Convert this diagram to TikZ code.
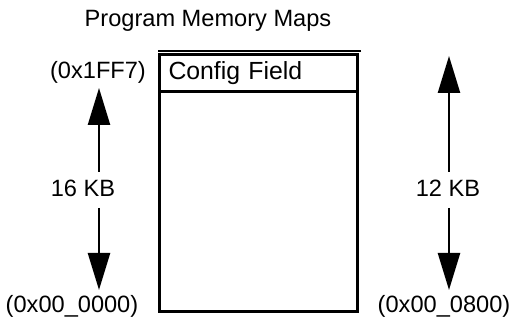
\documentclass[tikz,border=0pt]{standalone}
\usepackage{fontspec}
\setmainfont{Liberation Sans}
\usepackage{tikz}
\usetikzlibrary{arrows.meta,positioning,calc}

\begin{document}
\begin{tikzpicture}[x=0.5pt,y=-0.5pt,
            rotulo/.style={font=\fontsize{11.8}{14}\selectfont,inner sep=0pt},
            mapa/.style={draw,line width=1.5pt,minimum width=99pt,minimum height=128.25pt,
              inner sep=0pt},
            campo/.style={draw,line width=1.5pt,minimum width=99pt,minimum height=15pt,
              text width=90pt,inner xsep=4.5pt,align=left,
              font=\fontsize{12.4}{14}\selectfont},
            seta/.style={-{Triangle[length=18.5pt,width=11pt]},line width=1.2pt}
            ]
            \useasboundingbox (0,0) rectangle (514,324);
            \node[rotulo]                          (titulo) at (208,21) {Program Memory Maps};
            \node[mapa]                            (mem) at (258.5,183.25) {};
            \node[campo,anchor=north west]         (cfg) at (mem.north west) {Config Field};
            \coordinate (fimtopo) at (361,51.5);
            \draw[line width=1pt] (fimtopo) -- (fimtopo -| mem.west);

            % esquerda: 16 KB
            \node[rotulo]                          (end16) at (98,72) {(0x1FF7)};
            \node[rotulo]                          (kb16) at (83,188) {16 KB};
            \node[rotulo]                          (ini16) at (72,306) {(0x00\_0000)};
            \coordinate (p16a) at (99,172);
            \coordinate (p16b) at (99,88);
            \coordinate (p16c) at (99,208);
            \coordinate (p16d) at (99,290);
            \draw[seta] (p16a) -- (p16b);
            \draw[seta] (p16c) -- (p16d);

            % direita: 12 KB
            \node[rotulo]                          (kb12) at (448,188) {12 KB};
            \node[rotulo]                          (ini12) at (444,306) {(0x00\_0800)};
            \coordinate (p12a) at (449,172);
            \coordinate (p12b) at (449,56);
            \coordinate (p12c) at (449,208);
            \coordinate (p12d) at (449,290);
            \draw[seta] (p12a) -- (p12b);
            \draw[seta] (p12c) -- (p12d);
          \end{tikzpicture}
\end{document}
